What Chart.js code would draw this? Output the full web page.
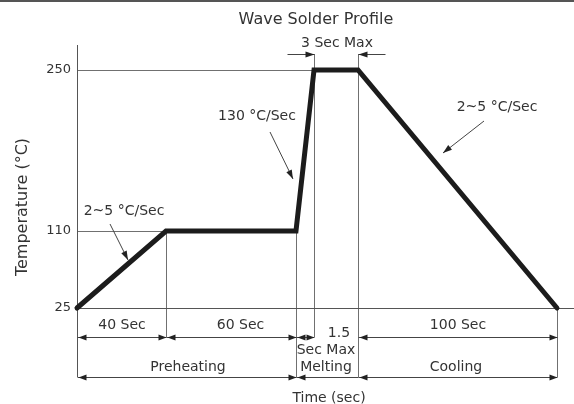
<!DOCTYPE html>
<html>
<head>
<meta charset="utf-8">
<title>Wave Solder Profile</title>
<script src="https://cdn.jsdelivr.net/npm/chart.js@4.4.1/dist/chart.umd.min.js"></script>
<style>
  body { margin: 0; background: #fff; }
  canvas { display: block; }
</style>
</head>
<body>
<canvas id="profileChart" width="574" height="404"></canvas>
<script>
// profile data: time (s) and temperature (°C)
const times = [0, 40, 100, 101.5, 104.5, 204.5];
const temps = [25, 110, 110, 250, 250, 25];
const yTicks = [25, 110, 250];

// the drawing is schematic, not to scale: value -> fraction of the axis
const xKnots = [[0, 0], [40, 0.1791], [100, 0.4406], [101.5, 0.4769], [104.5, 0.5654], [204.5, 0.9658], [213, 1]];
const yKnots = [[25, 0], [110, 0.2928], [250, 0.9049], [272, 1]];

const FONT = '"DejaVu Sans", Verdana, sans-serif';
const TEXT = '#333';
const LINE = '#707070';

class PiecewiseScale extends Chart.LinearScale {
  knots() {
    return this.axis === 'x' ? xKnots : yKnots;
  }
  getPixelForValue(value) {
    const k = this.knots();
    let i = 1;
    while (i < k.length - 1 && value > k[i][0]) i++;
    const a = k[i - 1], b = k[i];
    const dec = a[1] + (value - a[0]) / (b[0] - a[0]) * (b[1] - a[1]);
    return this.getPixelForDecimal(dec);
  }
  getValueForPixel(pixel) {
    const k = this.knots();
    const dec = this.getDecimalForPixel(pixel);
    let i = 1;
    while (i < k.length - 1 && dec > k[i][1]) i++;
    const a = k[i - 1], b = k[i];
    return a[0] + (dec - a[1]) / (b[1] - a[1]) * (b[0] - a[0]);
  }
}
PiecewiseScale.id = 'piecewise';
PiecewiseScale.defaults = Chart.LinearScale.defaults;
Chart.register(PiecewiseScale);

function hline(ctx, x1, x2, y) {
  y = Math.round(y) + 0.5;
  ctx.beginPath(); ctx.moveTo(x1, y); ctx.lineTo(x2, y); ctx.stroke();
}
function vline(ctx, x, y1, y2) {
  x = Math.round(x) + 0.5;
  ctx.beginPath(); ctx.moveTo(x, y1); ctx.lineTo(x, y2); ctx.stroke();
}
function head(ctx, x1, y1, x2, y2, len, half) {
  // filled arrow head with its tip at (x2, y2)
  const ang = Math.atan2(y2 - y1, x2 - x1);
  ctx.beginPath();
  ctx.moveTo(x2, y2);
  ctx.lineTo(x2 - len * Math.cos(ang) + half * Math.sin(ang), y2 - len * Math.sin(ang) - half * Math.cos(ang));
  ctx.lineTo(x2 - len * Math.cos(ang) - half * Math.sin(ang), y2 - len * Math.sin(ang) + half * Math.cos(ang));
  ctx.closePath();
  ctx.fill();
}
function arrow(ctx, x1, y1, x2, y2) {
  ctx.beginPath(); ctx.moveTo(x1, y1); ctx.lineTo(x2, y2); ctx.stroke();
  head(ctx, x1, y1, x2, y2, 9, 3);
}
function dimension(ctx, x1, x2, y, both) {
  y = Math.round(y) + 0.5;
  ctx.beginPath(); ctx.moveTo(x1, y); ctx.lineTo(x2, y); ctx.stroke();
  head(ctx, x2, y, x1 + 1, y, 8, 3);
  if (both) head(ctx, x1, y, x2, y, 8, 3);
}
function label(ctx, text, x, y, size) {
  ctx.font = (size || 14) + 'px ' + FONT;
  ctx.fillText(text, x, y);
}

const profileNotes = {
  id: 'profileNotes',
  beforeDatasetsDraw(chart) {
    const ctx = chart.ctx, a = chart.chartArea;
    const x = chart.scales.x, y = chart.scales.y;
    const px = t => x.getPixelForValue(t);
    const py = v => y.getPixelForValue(v);
    const row1 = a.bottom + 29, row2 = a.bottom + 69, top = a.top + 9;
    ctx.save();
    ctx.fillStyle = '#555';
    ctx.fillRect(0, 0, chart.width, 2);
    ctx.lineWidth = 1;
    ctx.strokeStyle = LINE;
    hline(ctx, a.left, px(times[3]), py(temps[3]));
    hline(ctx, a.left, px(times[2]), py(temps[2]));
    vline(ctx, px(times[1]), py(temps[1]), row1);
    vline(ctx, px(times[2]), py(temps[2]), row2);
    vline(ctx, px(times[3]), top, row1);
    vline(ctx, px(times[4]), top, row2);
    vline(ctx, px(times[5]), py(temps[5]), row2);
    ctx.strokeStyle = '#555';
    hline(ctx, a.left, a.right, py(temps[0]));
    vline(ctx, a.left, a.top, row2);
    ctx.restore();
  },
  afterDatasetsDraw(chart) {
    const ctx = chart.ctx, a = chart.chartArea;
    const x = chart.scales.x;
    const px = t => Math.round(x.getPixelForValue(t)) + 0.5;
    const row1 = a.bottom + 29, row2 = a.bottom + 69, top = a.top + 9;
    ctx.save();
    ctx.strokeStyle = '#444';
    ctx.fillStyle = '#222';
    ctx.lineWidth = 1;

    // dimension rows under the axis
    dimension(ctx, px(times[0]), px(times[1]), row1, true);
    dimension(ctx, px(times[1]), px(times[2]), row1, true);
    dimension(ctx, px(times[2]), px(times[3]), row1, true);
    dimension(ctx, px(times[4]), px(times[5]), row1, true);
    dimension(ctx, px(times[0]), px(times[2]), row2, true);
    dimension(ctx, px(times[2]), px(times[4]), row2, false);
    dimension(ctx, px(times[4]), px(times[5]), row2, true);

    // 3 Sec Max arrows at the peak
    arrow(ctx, px(times[3]) - 27, top + 0.5, px(times[3]), top + 0.5);
    arrow(ctx, px(times[4]) + 27, top + 0.5, px(times[4]), top + 0.5);

    // slope callouts
    arrow(ctx, 110, 224, 128, 260);
    arrow(ctx, 270, 132, 293, 179);
    arrow(ctx, 484, 121, 443, 153);

    ctx.fillStyle = TEXT;
    ctx.textAlign = 'center';
    ctx.textBaseline = 'middle';
    label(ctx, 'Wave Solder Profile', 316, 20, 16);
    label(ctx, '3 Sec Max', 337, 43);
    label(ctx, '2~5 °C/Sec', 124, 211);
    label(ctx, '130 °C/Sec', 257, 116);
    label(ctx, '2~5 °C/Sec', 497, 107);

    label(ctx, '40 Sec', (px(times[0]) + px(times[1])) / 2, row1 - 12);
    label(ctx, '60 Sec', px(74), row1 - 12);
    label(ctx, '100 Sec', (px(times[4]) + px(times[5])) / 2, row1 - 12);
    label(ctx, '1.5', 339, row1 - 4);
    label(ctx, 'Sec Max', 326, row1 + 13);
    label(ctx, 'Melting', 326, row2 - 10);
    label(ctx, 'Preheating', 188, row2 - 10);
    label(ctx, 'Cooling', 456, row2 - 10);
    label(ctx, 'Time (sec)', 329, a.bottom + 90);

    ctx.textBaseline = 'alphabetic';
    ctx.translate(27, 207);
    ctx.rotate(-Math.PI / 2);
    label(ctx, 'Temperature (°C)', 0, 0, 16);
    ctx.restore();
  }
};

new Chart(document.getElementById('profileChart'), {
  type: 'line',
  data: {
    datasets: [{
      data: times.map((t, i) => ({x: t, y: temps[i]})),
      borderColor: '#1c1c1c',
      borderWidth: 5,
      borderCapStyle: 'round',
      borderJoinStyle: 'miter',
      pointRadius: 0,
      tension: 0,
      fill: false,
      clip: false
    }]
  },
  plugins: [profileNotes],
  options: {
    responsive: false,
    devicePixelRatio: 1,
    animation: false,
    layout: { padding: { top: 45, left: 0, right: 0, bottom: 0 } },
    plugins: { legend: { display: false }, tooltip: { enabled: false }, title: { display: false } },
    scales: {
      x: {
        type: 'piecewise',
        min: xKnots[0][0],
        max: xKnots[xKnots.length - 1][0],
        grid: { display: false },
        border: { display: false },
        ticks: { display: false },
        afterFit: s => { s.height = 96; }
      },
      y: {
        type: 'piecewise',
        min: yKnots[0][0],
        max: yKnots[yKnots.length - 1][0],
        grid: { display: false, drawTicks: false },
        border: { display: false },
        afterBuildTicks: s => { s.ticks = yTicks.map(v => ({value: v})); },
        ticks: { padding: 6, color: TEXT, font: { family: FONT, size: 13 } },
        afterFit: s => { s.width = 77; }
      }
    }
  }
});
</script>
</body>
</html>
